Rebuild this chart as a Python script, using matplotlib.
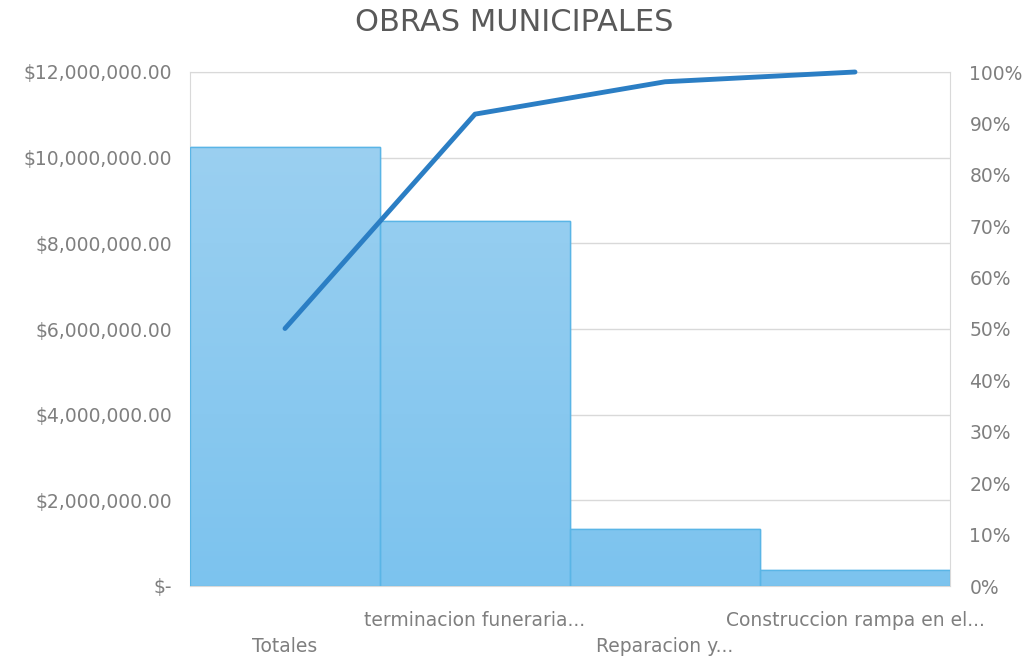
import numpy as np
import matplotlib.pyplot as plt
from matplotlib.colors import LinearSegmentedColormap
from matplotlib.ticker import FuncFormatter, PercentFormatter

categories = ['Totales', 'terminacion funeraria...', 'Reparacion y...', 'Construccion rampa en el...']
montos = [10250000, 8530000, 1330000, 380000]
acumulado = [50.1, 91.8, 98.1, 100.0]

plt.rcParams['font.family'] = ['DejaVu Sans']
gris = '#7f7f7f'

fig = plt.figure(figsize=(10.29, 6.56), dpi=100)
ax = fig.add_axes([190/1029, 70/656, 760/1029, 514/656])
x = np.arange(len(categories))

bars = ax.bar(x, montos, width=1.0, color='#8ecbf0', edgecolor='#5ab5e6', linewidth=1, zorder=2)

# degradado dentro de cada barra
cmap = LinearSegmentedColormap.from_list('g', ['#7cc3ee', '#a0d2f1'])
grad = np.linspace(0, 1, 256).reshape(-1, 1)
for b in bars:
    im = ax.imshow(grad, cmap=cmap, aspect='auto', origin='lower',
                   extent=[b.get_x(), b.get_x() + b.get_width(), 0, 12000000], zorder=2.5)
    im.set_clip_path(b)
for b in bars:
    ax.add_patch(plt.Rectangle((b.get_x(), 0), b.get_width(), b.get_height(),
                               fill=False, edgecolor='#5ab5e6', linewidth=1, zorder=3))

ax.set_xlim(-0.5, len(categories) - 0.5)
ax.set_ylim(0, 12000000)
ax.set_yticks(np.arange(0, 12000001, 2000000))
ax.yaxis.set_major_formatter(FuncFormatter(lambda v, p: '$-' if v == 0 else '${:,.2f}'.format(v)))
ax.grid(axis='y', color='#d9d9d9', linewidth=1, zorder=0)
ax.set_axisbelow(True)
for s in ax.spines.values():
    s.set_color('#d9d9d9')
ax.tick_params(axis='y', length=0, labelsize=13.5, colors=gris, pad=13)
ax.tick_params(axis='x', length=0)
ax.set_xticks(x)
ax.set_xticklabels([])
for i, c in enumerate(categories):
    off = -70 if i % 2 == 0 else -44
    ax.annotate(c, (i, 0), xytext=(0, off), textcoords='offset pixels',
                ha='center', va='bottom', fontsize=13.5, color=gris, annotation_clip=False)

ax2 = ax.twinx()
ax2.plot(x, acumulado, color='#2b7ec4', linewidth=3.5, solid_capstyle='round', zorder=5, clip_on=False)
ax2.set_ylim(0, 100)
ax2.set_yticks(np.arange(0, 101, 10))
ax2.yaxis.set_major_formatter(PercentFormatter(decimals=0))
ax2.tick_params(axis='y', length=0, labelsize=13.5, colors=gris, pad=14)
for s in ax2.spines.values():
    s.set_visible(False)

fig.text(0.5, 0.965, 'OBRAS MUNICIPALES', ha='center', va='center', fontsize=22, color='#595959')

fig.savefig('out.png', dpi=100)
